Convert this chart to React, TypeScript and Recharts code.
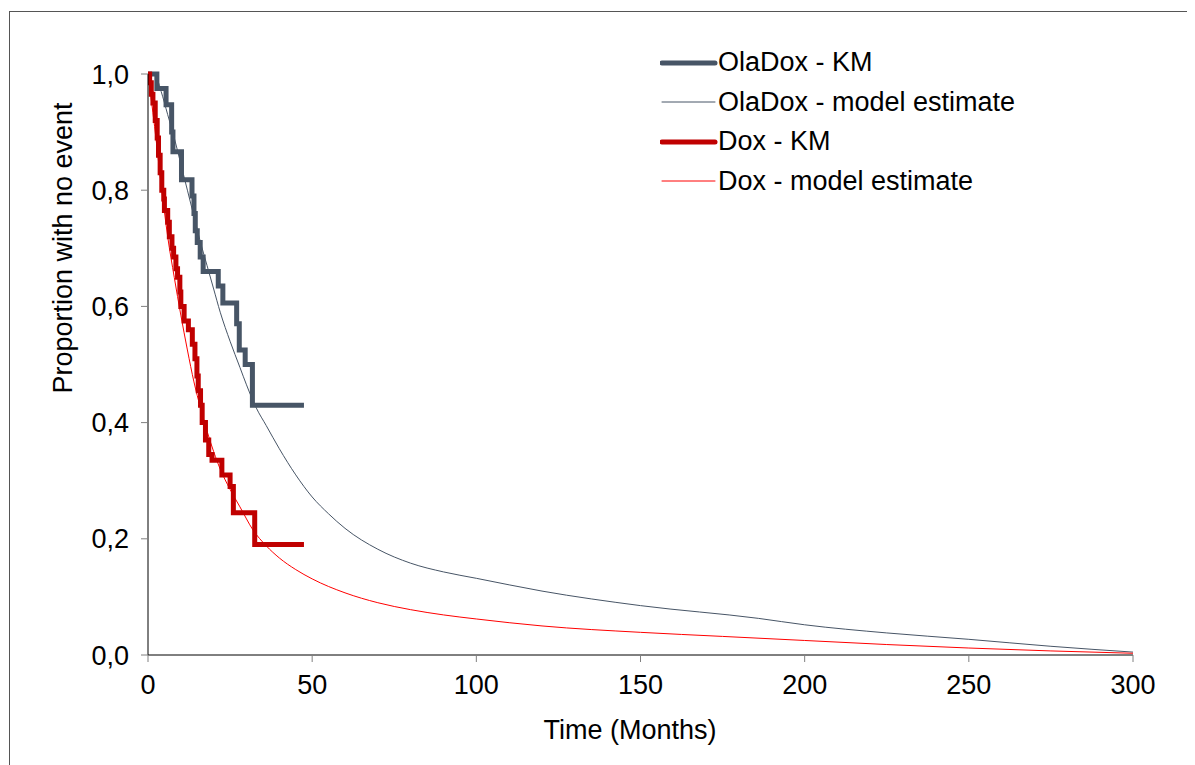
import React from 'react';
import { LineChart, Line, XAxis, YAxis } from 'recharts';

// months, proportion with no event
const olaDoxKM = [
  { t: 0, v: 1.0 }, { t: 2.7, v: 0.975 }, { t: 5.5, v: 0.947 }, { t: 7.2, v: 0.9 },
  { t: 7.6, v: 0.866 }, { t: 10.2, v: 0.818 }, { t: 13.4, v: 0.79 }, { t: 14.0, v: 0.76 },
  { t: 14.4, v: 0.73 }, { t: 15.0, v: 0.71 }, { t: 15.9, v: 0.685 }, { t: 16.8, v: 0.66 },
  { t: 21.4, v: 0.635 }, { t: 22.8, v: 0.606 }, { t: 27.0, v: 0.57 }, { t: 27.8, v: 0.525 },
  { t: 29.6, v: 0.5 }, { t: 31.8, v: 0.43 }, { t: 47.5, v: 0.43 },
];

const olaDoxModel = [
  { t: 0, v: 1.0 }, { t: 2, v: 1.0 }, { t: 4, v: 0.97 }, { t: 6, v: 0.93 }, { t: 8, v: 0.89 },
  { t: 10, v: 0.845 }, { t: 12, v: 0.8 }, { t: 14, v: 0.755 }, { t: 16, v: 0.71 },
  { t: 18, v: 0.67 }, { t: 20, v: 0.63 }, { t: 22, v: 0.59 }, { t: 25, v: 0.54 },
  { t: 28, v: 0.495 }, { t: 30, v: 0.465 }, { t: 33, v: 0.425 }, { t: 36, v: 0.395 },
  { t: 40, v: 0.355 }, { t: 45, v: 0.31 }, { t: 50, v: 0.272 }, { t: 55, v: 0.243 },
  { t: 60, v: 0.218 }, { t: 70, v: 0.182 }, { t: 80, v: 0.158 }, { t: 90, v: 0.143 },
  { t: 100, v: 0.132 }, { t: 120, v: 0.11 }, { t: 150, v: 0.085 }, { t: 186, v: 0.063 },
  { t: 200, v: 0.052 }, { t: 225, v: 0.038 }, { t: 250, v: 0.027 }, { t: 275, v: 0.015 },
  { t: 300, v: 0.005 },
];

const doxKM = [
  { t: 0, v: 1.0 }, { t: 0.5, v: 0.985 }, { t: 1.0, v: 0.965 }, { t: 1.5, v: 0.95 },
  { t: 2.2, v: 0.92 }, { t: 2.8, v: 0.89 }, { t: 3.2, v: 0.86 }, { t: 3.7, v: 0.83 },
  { t: 4.2, v: 0.8 }, { t: 4.8, v: 0.785 }, { t: 5.0, v: 0.765 }, { t: 6.0, v: 0.745 },
  { t: 6.5, v: 0.72 }, { t: 7.3, v: 0.7 }, { t: 7.8, v: 0.685 }, { t: 8.5, v: 0.665 },
  { t: 9.0, v: 0.65 }, { t: 9.7, v: 0.625 }, { t: 10.0, v: 0.6 }, { t: 11.0, v: 0.575 },
  { t: 12.3, v: 0.56 }, { t: 13.5, v: 0.535 }, { t: 14.3, v: 0.51 }, { t: 14.9, v: 0.48 },
  { t: 15.3, v: 0.455 }, { t: 16.0, v: 0.43 }, { t: 16.5, v: 0.4 }, { t: 17.5, v: 0.37 },
  { t: 18.5, v: 0.345 }, { t: 19.5, v: 0.335 }, { t: 22.5, v: 0.31 }, { t: 25.0, v: 0.29 },
  { t: 26.0, v: 0.245 }, { t: 32.5, v: 0.19 }, { t: 47.5, v: 0.19 },
];

const doxModel = [
  { t: 0, v: 1.0 }, { t: 2, v: 0.91 }, { t: 4, v: 0.81 }, { t: 6, v: 0.72 }, { t: 8, v: 0.65 },
  { t: 10, v: 0.585 }, { t: 12, v: 0.525 }, { t: 14, v: 0.47 }, { t: 16, v: 0.425 },
  { t: 18, v: 0.385 }, { t: 20, v: 0.35 }, { t: 22, v: 0.32 }, { t: 25, v: 0.285 },
  { t: 28, v: 0.255 }, { t: 32, v: 0.215 }, { t: 36, v: 0.188 }, { t: 40, v: 0.167 },
  { t: 45, v: 0.147 }, { t: 50, v: 0.131 }, { t: 60, v: 0.107 }, { t: 70, v: 0.09 },
  { t: 80, v: 0.078 }, { t: 90, v: 0.069 }, { t: 100, v: 0.062 }, { t: 120, v: 0.05 },
  { t: 150, v: 0.039 }, { t: 175, v: 0.032 }, { t: 200, v: 0.025 }, { t: 225, v: 0.018 },
  { t: 250, v: 0.012 }, { t: 275, v: 0.007 }, { t: 300, v: 0.003 },
];

const xTicks = [0, 50, 100, 150, 200, 250, 300];
const yTicks = [0, 0.2, 0.4, 0.6, 0.8, 1.0];

const series = [
  { name: 'OlaDox - KM', color: '#475566', width: 5 },
  { name: 'OlaDox - model estimate', color: '#475566', width: 1 },
  { name: 'Dox - KM', color: '#c00000', width: 5 },
  { name: 'Dox - model estimate', color: '#ff0000', width: 1 },
];

const FONT = '"Liberation Sans", Arial, sans-serif';
const FS = 27;

const LegendBox = () => (
  <div style={{ position: 'absolute', left: 652, top: 35, fontFamily: FONT, fontSize: FS, color: '#000' }}>
    {series.map((s) => (
      <div key={s.name} style={{ display: 'flex', alignItems: 'center', height: 39.5 }}>
        <svg width={58} height={10} style={{ flex: 'none' }}>
          <line x1={2} y1={5} x2={55} y2={5} stroke={s.color} strokeWidth={s.width} strokeLinecap="round" />
        </svg>
        <span style={{ whiteSpace: 'nowrap' }}>{s.name}</span>
      </div>
    ))}
  </div>
);

export default function App() {
  return (
    <div style={{ position: 'relative', width: 1187, height: 757 }}>
      <div
        style={{
          position: 'absolute', left: 1, top: 3, right: -20, bottom: -20,
          borderLeft: '1px solid #555', borderTop: '1px solid #555',
        }}
      />
      <LineChart width={1187} height={757} margin={{ top: 66, right: 62, left: 0, bottom: 40 }}>
        <XAxis
          dataKey="t"
          type="number"
          domain={[0, 300]}
          ticks={xTicks}
          allowDataOverflow
          height={70}
          stroke="#000"
          tickSize={7}
          tickMargin={13}
          tickLine={{ stroke: '#808080' }}
          tick={{ fill: '#000', fontSize: FS, fontFamily: FONT }}
          label={() => (
            <text x={622} y={731} textAnchor="middle" fill="#000" fontSize={FS} fontFamily={FONT}>
              Time (Months)
            </text>
          )}
        />
        <YAxis
          dataKey="v"
          type="number"
          domain={[0, 1]}
          ticks={yTicks}
          width={140}
          stroke="#000"
          tickSize={7}
          tickMargin={12}
          tickLine={{ stroke: '#808080' }}
          tickFormatter={(v: number) => v.toFixed(1).replace('.', ',')}
          tick={{ fill: '#000', fontSize: FS, fontFamily: FONT }}
          label={() => (
            <text x={64} y={240} transform="rotate(-90 64 240)" textAnchor="middle" fill="#000" fontSize={FS} fontFamily={FONT}>
              Proportion with no event
            </text>
          )}
        />
        <Line data={olaDoxModel} dataKey="v" name="OlaDox - model estimate" type="monotone" stroke="#475566" strokeWidth={1} dot={false} isAnimationActive={false} />
        <Line data={doxModel} dataKey="v" name="Dox - model estimate" type="monotone" stroke="#ff0000" strokeWidth={1} dot={false} isAnimationActive={false} />
        <Line data={olaDoxKM} dataKey="v" name="OlaDox - KM" type="stepAfter" stroke="#475566" strokeWidth={5} dot={false} isAnimationActive={false} />
        <Line data={doxKM} dataKey="v" name="Dox - KM" type="stepAfter" stroke="#c00000" strokeWidth={5} dot={false} isAnimationActive={false} />
      </LineChart>
      <LegendBox />
    </div>
  );
}
